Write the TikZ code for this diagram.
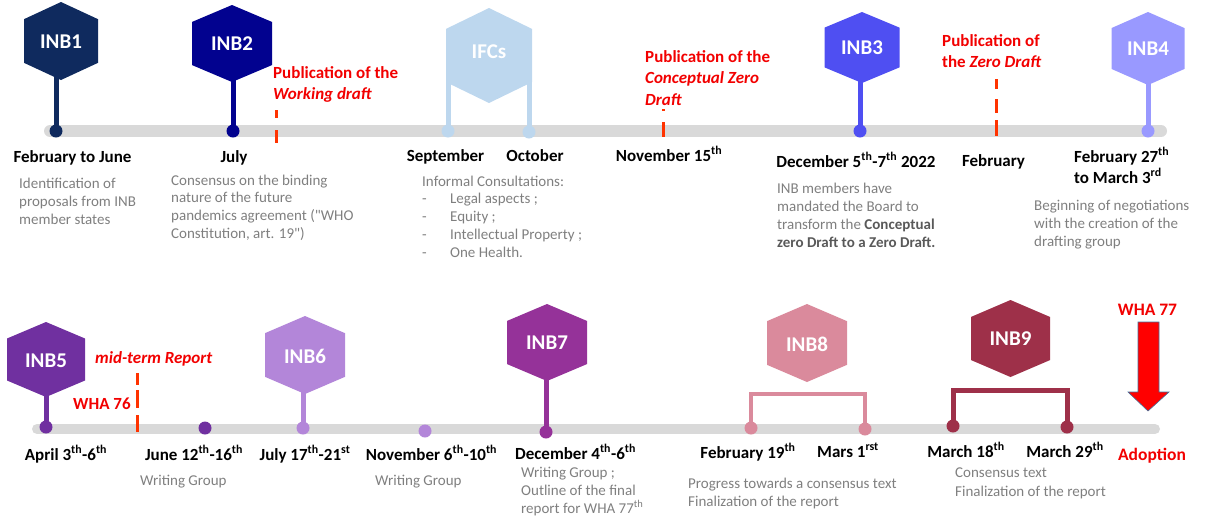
\documentclass[tikz,border=0pt]{standalone}
\usepackage{fontspec}
\setmainfont{Carlito}[Ligatures=TeXOff]
\usetikzlibrary{calc}
\pgfdeclarelayer{background}
\pgfsetlayers{background,main}

\definecolor{barGray}{HTML}{D9D9D9}
\definecolor{descGray}{HTML}{7F7F7F}
\definecolor{boldGray}{HTML}{595959}
\definecolor{alertRed}{HTML}{F20000}
\definecolor{dashRed}{HTML}{FF3300}
\definecolor{arrowEdge}{HTML}{41719C}
\definecolor{inbA}{HTML}{0F2A5E}
\definecolor{inbB}{HTML}{02028F}
\definecolor{ifc}{HTML}{BDD7EE}
\definecolor{inbC}{HTML}{4F4FF2}
\definecolor{inbD}{HTML}{9999FF}
\definecolor{inbE}{HTML}{7030A0}
\definecolor{inbF}{HTML}{B386D9}
\definecolor{inbG}{HTML}{953299}
\definecolor{inbH}{HTML}{DA8A9C}
\definecolor{inbI}{HTML}{9E3049}

% multi-line text whose baseline is the first line
\newcommand\textrows[1]{\begin{tabular}[t]{@{}l@{}}#1\end{tabular}}
\newcommand\ordsup[1]{\textsuperscript{#1}}

% hexagon badge: name, x, y, half width, half height, colour, label, label y
\newcommand\hexcell[8]{%
  \fill[#6, shift={(#2,#3)}] (0,-#5) -- (#4,-0.56*#5) -- (#4,0.56*#5) -- (0,#5)
    -- (-#4,0.56*#5) -- (-#4,-0.56*#5) -- cycle;
  \node[hexlabel] (#1) at (#2,#8) {#7};}

\tikzset{
  hexlabel/.style={text=white, inner sep=0, font=\fontsize{21}{24}\selectfont\bfseries},
  dot/.style={circle, inner sep=0, minimum size=13pt},
  datelabel/.style={anchor=base, inner sep=0, font=\fontsize{17}{21}\selectfont\bfseries},
  desc/.style={anchor=base west, inner sep=0, text=descGray, font=\fontsize{15}{18}\selectfont},
  redlabel/.style={anchor=base west, inner sep=0, text=alertRed, font=\fontsize{17}{21.5}\selectfont\bfseries},
  bar/.style={draw=barGray, line width=12pt, line cap=round},
  stem/.style={line width=5pt},
  bracket/.style={line width=4.5pt, line join=miter},
  reddash/.style={draw=dashRed, line width=3pt},
}

\begin{document}
\begin{tikzpicture}[x=1pt, y=-1pt]
\useasboundingbox (0,0) rectangle (1208,523);

% ---------------- timeline axes ----------------
\coordinate (topL) at (50,131);
\coordinate (topR) at (1161,131);
\coordinate (botL) at (37,429);
\coordinate (botR) at (1155,429);

% ---------------- upper row: badges ----------------
\hexcell{INB1}{61}{41}{37}{39}{inbA}{INB1}{42}
\hexcell{INB2}{232}{43.5}{40}{38.5}{inbB}{INB2}{44}
\hexcell{IFCs}{489}{55.5}{43}{47.5}{ifc}{IFCs}{51.5}
\hexcell{INB3}{862}{47.5}{37.5}{35.5}{inbC}{INB3}{48}
\hexcell{INB4}{1148}{48.5}{36.5}{36.5}{inbD}{INB4}{49}

% upper row: event dots
\node[dot, fill=inbA] (d1) at (56,131) {};
\node[dot, fill=inbB] (d2) at (233,131) {};
\node[dot, fill=ifc] (dSep) at (448,131) {};
\node[dot, fill=ifc] (dOct) at (529,132) {};
\node[dot, fill=inbC] (d3) at (860,131) {};
\node[dot, fill=inbD] (d4) at (1148,131) {};

% ---------------- lower row: badges ----------------
\hexcell{INB5}{46}{359.5}{39}{37.5}{inbE}{INB5}{361}
\hexcell{INB6}{305}{355}{40}{39}{inbF}{INB6}{356}
\hexcell{INB7}{547}{342.5}{40}{38.5}{inbG}{INB7}{343}
\hexcell{INB8}{807}{343}{40}{39}{inbH}{INB8}{344}
\hexcell{INB9}{1010.5}{338.5}{39.5}{38.5}{inbI}{INB9}{339}

% lower row: event dots
\node[dot, fill=inbE] (d5) at (46,427) {};
\node[dot, fill=inbE] (dJun) at (205,428) {};
\node[dot, fill=inbF] (d6) at (303,428) {};
\node[dot, fill=inbF] (dNov) at (425,431) {};
\node[dot, fill=inbG] (d7) at (546,432) {};
\node[dot, fill=inbH] (d8a) at (751,428) {};
\node[dot, fill=inbH] (d8b) at (865,429) {};
\node[dot, fill=inbI] (d9a) at (953,426) {};
\node[dot, fill=inbI] (d9b) at (1067,427) {};

\coordinate (b8) at (807,394);
\coordinate (b9) at (1010,390);

% ---------------- bars, stems and brackets ----------------
\begin{pgfonlayer}{background}
  \draw[bar] (topL) -- (topR);
  \draw[bar, line width=10pt] (botL) -- (botR);
  \draw[stem, draw=inbA] (d1.center) -- (d1.center |- INB1.center);
  \draw[stem, draw=inbB] (d2.center) -- (d2.center |- INB2.center);
  \draw[stem, draw=ifc] (dSep.center) -- (dSep.center |- IFCs.center);
  \draw[stem, draw=ifc] (dOct.center) -- (dOct.center |- IFCs.center);
  \draw[stem, draw=inbC] (d3.center) -- (d3.center |- INB3.center);
  \draw[stem, draw=inbD] (d4.center) -- (d4.center |- INB4.center);
  \draw[stem, draw=inbE] (d5.center) -- (d5.center |- INB5.center);
  \draw[stem, draw=inbF] (d6.center) -- (d6.center |- INB6.center);
  \draw[stem, draw=inbG] (d7.center) -- (d7.center |- INB7.center);
  \draw[bracket, draw=inbH] (d8a.center) |- (b8) -| (d8b.center);
  \draw[bracket, draw=inbI, line width=5pt] (d9a.center) |- (b9) -| (d9b.center);
\end{pgfonlayer}

% ---------------- publication markers ----------------
\coordinate (pubA1) at (276,110);  \coordinate (pubA2) at (276,143);
\coordinate (pubB1) at (663,109);  \coordinate (pubB2) at (663,137);
\coordinate (pubC1) at (996,79);   \coordinate (pubC2) at (996,136);
\coordinate (pubD1) at (137,373);  \coordinate (pubD2) at (137,432);
\draw[reddash, dash pattern=on 8pt off 12pt on 13pt] (pubA1) -- (pubA2);
\draw[reddash, dash pattern=on 2pt off 11pt on 15pt] (pubB1) -- (pubB2);
\draw[reddash, dash pattern=on 10pt off 10pt on 14pt off 7pt on 16pt] (pubC1) -- (pubC2);
\draw[reddash, dash pattern=on 12pt off 5pt on 18pt off 7pt on 17pt] (pubD1) -- (pubD2);

\node[redlabel] (pubAtxt) at (273,78) {\textrows{Publication of the\\ \textit{Working draft}}};
\node[redlabel] (pubBtxt) at (645,62) {\textrows{Publication of the\\ \textit{Conceptual Zero}\\ \textit{Draft}}};
\node[redlabel, font=\fontsize{17}{21}\selectfont\bfseries] (pubCtxt) at (942,46) {\textrows{Publication of\\ the \textit{Zero Draft}}};
\node[redlabel] (pubDtxt) at (95,363) {\textit{mid-term Report}};
\node[redlabel] (wha76) at (73,409) {WHA 76};

% ---------------- upper row: dates ----------------
\node[datelabel] (t1) at (72.5,162) {February to June};
\node[datelabel] (t2) at (234,162) {July};
\node[datelabel] (tSep) at (445.5,161) {September};
\node[datelabel] (tOct) at (535,161) {October};
\node[datelabel] (tNov) at (669,161) {November 15\ordsup{th}};
\node[datelabel] (t3) at (856,167) {December 5\ordsup{th}-7\ordsup{th} 2022};
\node[datelabel] (tFeb) at (993.5,166) {February};
\node[datelabel, anchor=base west] (t4) at (1074,162) {\textrows{February 27\ordsup{th}\\ to March 3\ordsup{rd}}};

% ---------------- upper row: descriptions ----------------
\node[desc] (x1) at (19,188) {\textrows{Identification of\\ proposals from INB\\ member states}};
\node[desc, font=\fontsize{15}{17.7}\selectfont] (x2) at (171,185) {\textrows{Consensus on the binding\\ nature of the future\\ pandemics agreement ("WHO\\ Constitution, art. 19")}};
\node[desc, font=\fontsize{15}{17.8}\selectfont] (xIFC) at (422,186) {\textrows{Informal Consultations:\\
  \makebox[28pt][l]{-}Legal aspects ;\\
  \makebox[28pt][l]{-}Equity ;\\
  \makebox[28pt][l]{-}Intellectual Property ;\\
  \makebox[28pt][l]{-}One Health.}};
\node[desc] (x3) at (777,193) {\textrows{INB members have\\ mandated the Board to\\ transform the \textcolor{boldGray}{\bfseries Conceptual}\\ \textcolor{boldGray}{\bfseries zero Draft to a Zero Draft.}}};
\node[desc] (x4) at (1034,210) {\textrows{Beginning of negotiations\\ with the creation of the\\ drafting group}};

% ---------------- lower row: dates ----------------
\node[datelabel] (t5) at (66,460) {April 3\ordsup{th}-6\ordsup{th}};
\node[datelabel] (tJun) at (194,460) {June 12\ordsup{th}-16\ordsup{th}};
\node[datelabel] (t6) at (305,460) {July 17\ordsup{th}-21\ordsup{st}};
\node[datelabel] (tNov2) at (431.5,460) {November 6\ordsup{th}-10\ordsup{th}};
\node[datelabel] (t7) at (575.5,459) {December 4\ordsup{th}-6\ordsup{th}};
\node[datelabel] (t8a) at (748,458) {February 19\ordsup{th}};
\node[datelabel] (t8b) at (848,457) {Mars 1\ordsup{rst}};
\node[datelabel] (t9a) at (966,457) {March 18\ordsup{th}};
\node[datelabel] (t9b) at (1065,457) {March 29\ordsup{th}};

% ---------------- lower row: descriptions ----------------
\node[desc] (xJun) at (140,485) {Writing Group};
\node[desc] (xNov) at (375,485) {Writing Group};
\node[desc] (x7) at (521,477) {\textrows{Writing Group ;\\ Outline of the final\\ report for WHA 77\ordsup{th}}};
\node[desc] (x8) at (688,488) {\textrows{Progress towards a consensus text\\ Finalization of the report}};
\node[desc, font=\fontsize{15}{19}\selectfont] (x9) at (955,477) {\textrows{Consensus text\\ Finalization of the report}};

% ---------------- adoption ----------------
\node[redlabel, anchor=base, font=\fontsize{17.5}{21}\selectfont\bfseries] (wha77) at (1147.5,315) {WHA 77};
\filldraw[fill=red, draw=arrowEdge, line width=0.6pt, line join=miter]
  (1138,322) -- (1159,322) -- (1159,392) -- (1169,392) -- (1148,411)
  -- (1128,392) -- (1138,392) -- cycle;
\node[redlabel, anchor=base, font=\fontsize{17.5}{21}\selectfont\bfseries] (adopt) at (1152,460) {Adoption};

\end{tikzpicture}
\end{document}
